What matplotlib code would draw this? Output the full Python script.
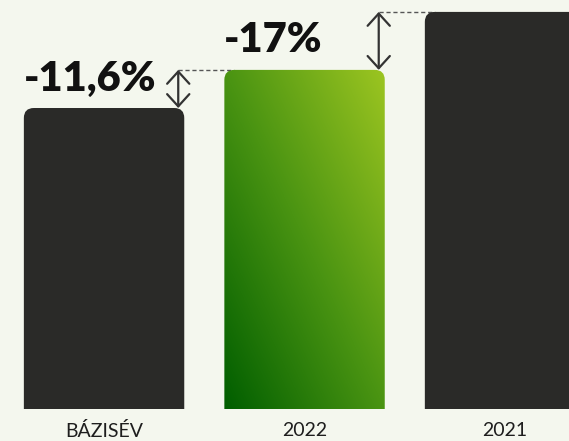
import numpy as np
import matplotlib
matplotlib.use("Agg")
import matplotlib.pyplot as plt
from matplotlib.path import Path
from matplotlib.patches import PathPatch
from matplotlib.colors import LinearSegmentedColormap

# adatok (2021 = 100, relatív magasság)
kategoriak = ["BÁZISÉV", "2022", "2021"]
ertekek = [75.8, 85.4, 100.0]
valtozasok = ["-11,6%", "-17%"]

hatter = "#f4f7ee"
sotet = "#2a2a28"
zold = LinearSegmentedColormap.from_list("zold", ["#005e00", "#4a9412", "#9cc521"])

fig = plt.figure(figsize=(5.69, 4.41), dpi=100, facecolor=hatter)
ax = fig.add_axes([0, 32 / 441, 1, 409 / 441])
ax.set_facecolor(hatter)
ax.set_xlim(-0.519, 2.319)
ax.set_ylim(0, 103.0)

szel = 0.8
rx = 10 / 200.5
ry = 10 / 3.97


def lekerekitett(x0, x1, y1):
    verts = [(x0, 0), (x0, y1 - ry), (x0, y1), (x0 + rx, y1), (x1 - rx, y1),
             (x1, y1), (x1, y1 - ry), (x1, 0), (x0, 0)]
    codes = [Path.MOVETO, Path.LINETO, Path.CURVE3, Path.CURVE3, Path.LINETO,
             Path.CURVE3, Path.CURVE3, Path.LINETO, Path.CLOSEPOLY]
    return Path(verts, codes)


for i, v in enumerate(ertekek):
    x0, x1 = i - szel / 2, i + szel / 2
    if i == 1:
        patch = PathPatch(lekerekitett(x0, x1, v), facecolor="none", edgecolor="none")
        ax.add_patch(patch)
        u, w = np.meshgrid(np.linspace(0, 1, 200), np.linspace(0, 1, 400))
        t = (u + w) / 2
        im = ax.imshow(t, cmap=zold, origin="lower", extent=[x0, x1, 0, v],
                       aspect="auto", interpolation="bilinear", zorder=2)
        im.set_clip_path(patch)
    else:
        ax.add_patch(PathPatch(lekerekitett(x0, x1, v), facecolor=sotet,
                               edgecolor="none", zorder=2))

# százalékos feliratok, nyilak
for i, felirat in enumerate(valtozasok):
    ax.text(i - szel / 2, ertekek[i] + 4.4, felirat, ha="left", va="baseline",
            fontsize=30, fontweight="heavy", family=["Lato", "DejaVu Sans"],
            color="#111111", zorder=4)
    nx = i + 0.37
    ax.plot([nx, i + 1 - szel / 2 + rx], [ertekek[i + 1]] * 2, ls=(0, (3, 2)),
            lw=1, color="#555555", zorder=1)
    ax.annotate("", xy=(nx, ertekek[i + 1]), xytext=(nx, ertekek[i]),
                arrowprops=dict(arrowstyle="<->,head_length=0.55,head_width=0.5",
                                lw=1.6, color="#333333", shrinkA=0, shrinkB=0,
                                mutation_scale=16), zorder=3)

ax.set_xticks(range(len(kategoriak)), kategoriak, fontsize=14,
              family=["Lato", "DejaVu Sans"], color="#1e1e1e")
ax.tick_params(axis="x", length=0, pad=9.5)
ax.set_yticks([])
for s in ax.spines.values():
    s.set_visible(False)

fig.savefig("out.png", dpi=100, facecolor=hatter)
